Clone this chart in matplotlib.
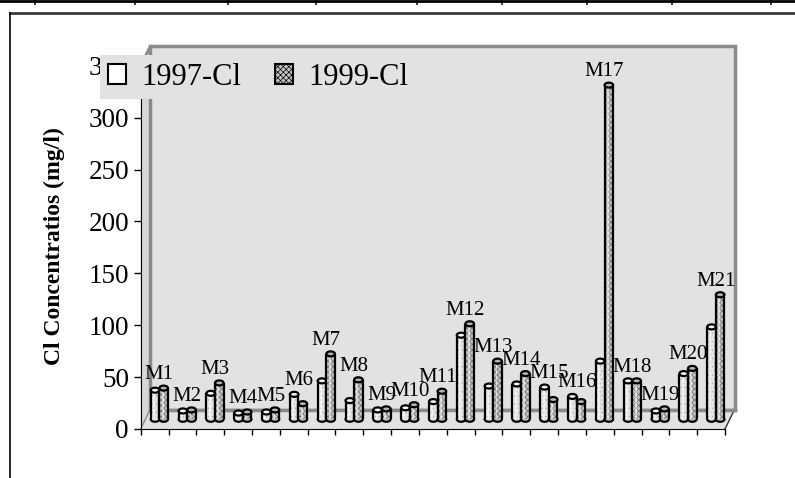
import matplotlib
matplotlib.use("Agg")
import matplotlib.pyplot as plt
from matplotlib.patches import Ellipse, Polygon, Patch
from matplotlib.lines import Line2D

# ---- data -------------------------------------------------------------
sites = [f"M{i}" for i in range(1, 22)]
cl_1997 = [28, 8, 25, 6, 7, 24, 37, 18, 9, 11, 17, 81, 32, 34, 31, 22, 56, 37, 8, 44, 89]
cl_1999 = [30, 9, 35, 7, 9, 15, 63, 38, 10, 14, 27, 92, 56, 44, 19, 17, 322, 37, 10, 49, 120]
y_ticks = [0, 50, 100, 150, 200, 250, 300, 350]
series_names = ["1997-Cl", "1999-Cl"]

# ---- styling ----------------------------------------------------------
plt.rcParams["font.family"] = ["Liberation Serif", "DejaVu Serif"]
plt.rcParams["hatch.linewidth"] = 0.5

W, H = 795, 478
fig = plt.figure(figsize=(W / 100, H / 100), dpi=100)

def fx(px):
    return px / W

def fy(py):
    return 1 - py / H

# front axis box (pixel geometry of the plotting area)
x0_px, x1_px = 140.7, 725.0
y0_px, y1_px = 429.0, 65.8
ax = fig.add_axes([fx(x0_px), fy(y0_px), fx(x1_px - x0_px), (y0_px - y1_px) / H])
ax.set_xlim(0, len(sites))
ax.set_ylim(0, 350)
ax.patch.set_visible(False)

px_per_x = (x1_px - x0_px) / len(sites)
px_per_y = (y0_px - y1_px) / 350.0
depth_dx = 9.5 / px_per_x   # oblique depth offset, data units
depth_dy = 19.5 / px_per_y

wall_fc = "#e2e2e2"
edge_grey = "#8a8a8a"
n = len(sites)

# left side wall
ax.add_patch(Polygon([(0, 0), (0, 350), (depth_dx, 350 + depth_dy), (depth_dx, depth_dy)],
                     closed=True, facecolor="#d6d6d6", edgecolor="none", clip_on=False, zorder=0.5))
# back wall
ax.add_patch(Polygon([(depth_dx, depth_dy), (depth_dx, 350 + depth_dy),
                      (n + depth_dx, 350 + depth_dy), (n + depth_dx, depth_dy)],
                     closed=True, facecolor=wall_fc, edgecolor=edge_grey, linewidth=2.5,
                     clip_on=False, zorder=0.6))
# floor
ax.add_patch(Polygon([(0, 0), (n, 0), (n + depth_dx, depth_dy), (depth_dx, depth_dy)],
                     closed=True, facecolor=wall_fc, edgecolor="none", clip_on=False, zorder=0.7))
ax.plot([0, depth_dx], [350, 350 + depth_dy], color=edge_grey, lw=2, clip_on=False, zorder=0.8)
ax.plot([0, depth_dx], [0, depth_dy], color=edge_grey, lw=1, clip_on=False, zorder=0.8)
ax.plot([n, n + depth_dx], [0, depth_dy], color="#333333", lw=1, clip_on=False, zorder=0.8)
ax.plot([depth_dx, n + depth_dx], [depth_dy, depth_dy], color=edge_grey, lw=2.5, clip_on=False, zorder=0.8)

# ---- cylinders --------------------------------------------------------
bar_w = 8.6 / px_per_x
cap_h = 5.0 / px_per_y
shift = 0.5 * depth_dx
base = 0.5 * depth_dy

styles = [
    dict(face="#e4e4e4", hatch="....", hcolor="#b0b0b0", cap="#f4f4f4"),
    dict(face="#c4c4c4", hatch="xxxxxx", hcolor="#6e6e6e", cap="#b4b4b4"),
]

for s, (vals, st) in enumerate(zip([cl_1997, cl_1999], styles)):
    xs = [i + 0.5 + shift + (s - 0.5) * bar_w for i in range(n)]
    z = 2 + s
    for x, v in zip(xs, vals):
        ax.add_patch(Ellipse((x, base), bar_w, cap_h, facecolor=st["face"], edgecolor="black",
                             linewidth=1.6, zorder=z, clip_on=False))
    ax.bar(xs, vals, width=bar_w, bottom=base, color=st["face"], hatch=st["hatch"],
           edgecolor=st["hcolor"], linewidth=0, zorder=z + 0.1, clip_on=False)
    # soft highlight down the face of each cylinder
    ax.bar([x - bar_w * 0.12 for x in xs], vals, width=bar_w * 0.22, bottom=base,
           color="white", alpha=0.55, linewidth=0, zorder=z + 0.15, clip_on=False)
    ax.vlines([x - bar_w / 2 for x in xs], base, [v + base for v in vals], color="black",
              linewidth=1.6, zorder=z + 0.2, clip_on=False)
    ax.vlines([x + bar_w / 2 for x in xs], base, [v + base for v in vals], color="black",
              linewidth=1.6, zorder=z + 0.2, clip_on=False)
    for x, v in zip(xs, vals):
        ax.add_patch(Ellipse((x, v + base), bar_w, cap_h, facecolor=st["cap"], edgecolor="black",
                             hatch=None, linewidth=1.6, zorder=z + 0.3, clip_on=False))

# site labels above each pair
for i, (name, a, b) in enumerate(zip(sites, cl_1997, cl_1999)):
    top = max(a, b) + base
    ax.annotate(name, (i + 0.5 + shift, top), xytext=(0, 6.5), textcoords="offset points",
                ha="center", va="baseline", fontsize=15, zorder=10, annotation_clip=False)

# ---- axes -------------------------------------------------------------
for side in ("top", "right"):
    ax.spines[side].set_visible(False)
ax.spines["left"].set_color("black")
ax.spines["bottom"].set_color("black")
ax.spines["left"].set_zorder(1)
ax.spines["bottom"].set_zorder(1)
ax.set_yticks(y_ticks)
ax.set_yticklabels([str(t) for t in y_ticks])
ax.set_xticks(range(n + 1))
ax.set_xticklabels([])
ax.tick_params(axis="y", direction="out", length=5, width=1, pad=3.5, labelsize=19.5)
ax.tick_params(axis="x", direction="out", length=4.5, width=1)

fig.text(fx(54), fy(246.5), "Cl Concentratios (mg/l)", rotation=90, fontsize=17,
         fontweight="bold", ha="center", va="center")

# ---- legend -----------------------------------------------------------
handles = [
    Patch(facecolor="white", edgecolor="black", linewidth=1.5, label=series_names[0]),
    Patch(facecolor="#c4c4c4", edgecolor="black", hatch="xxxxxx", linewidth=1.5, label=series_names[1]),
]
leg = fig.legend(handles=handles, loc="upper left", bbox_to_anchor=(fx(100), fy(55)),
                 ncol=2, fontsize=22, frameon=True, fancybox=False, facecolor=wall_fc,
                 edgecolor="none", framealpha=1, borderpad=0.25, borderaxespad=0,
                 handlelength=0.6, handleheight=0.6, handletextpad=0.5, columnspacing=1.1)
leg.set_zorder(20)

# ---- page furniture: frame and table rule -----------------------------
fig.add_artist(Line2D([fx(10), fx(795)], [fy(13), fy(13)], color="#3a3a3a", lw=2))
fig.add_artist(Line2D([fx(10), fx(10)], [fy(13), fy(478)], color="black", lw=1.2))
fig.add_artist(Line2D([0, 1], [fy(0.8), fy(0.8)], color="black", lw=2))
for tx in [35, 135, 228, 316, 417, 502, 587, 672, 771]:
    fig.add_artist(Line2D([fx(tx), fx(tx)], [fy(0), fy(4)], color="black", lw=1.2))

fig.savefig("out.png", dpi=100)
